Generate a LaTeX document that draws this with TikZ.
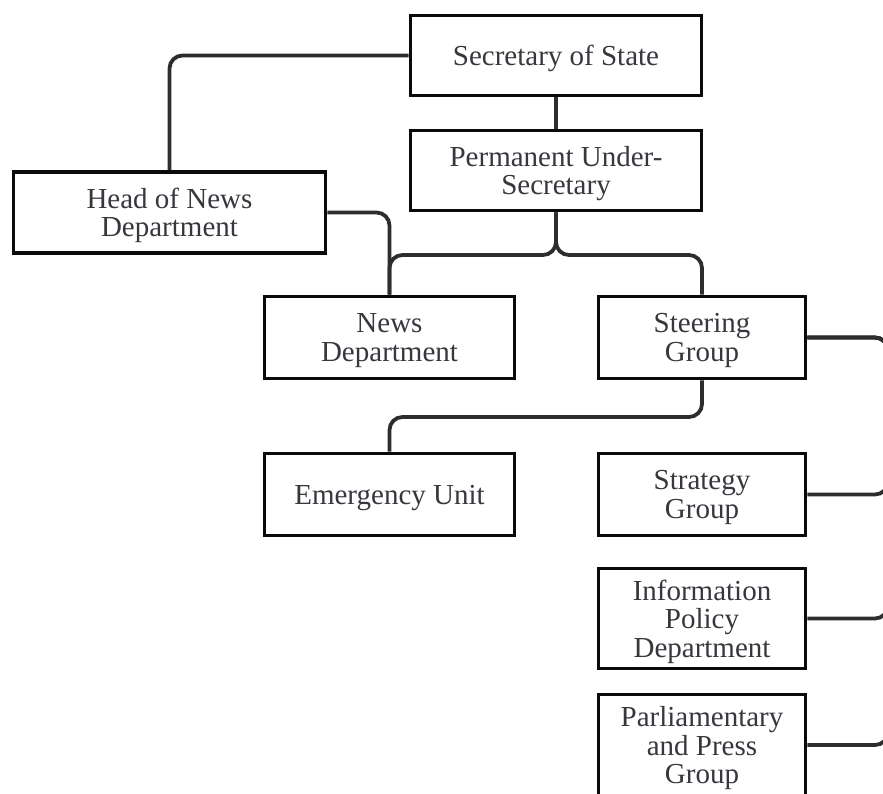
\documentclass[tikz,border=0pt]{standalone}
\usepackage{fontspec}
\setmainfont{Liberation Serif}
\usepackage{tikz}
\usetikzlibrary{positioning}
\definecolor{BoxBlack}{RGB}{10, 10, 10}
\definecolor{LinkGrey}{RGB}{45, 45, 45}
\definecolor{TextGrey}{RGB}{55, 55, 62}

\tikzset{
  orgbox/.style={draw=BoxBlack, line width=3.6pt, fill=white, text=TextGrey, align=center,
    inner sep=0pt, minimum height=80pt, text depth=0pt, font=\fontsize{29}{28.5}\selectfont},
  link/.style={draw=LinkGrey, line width=3.8pt, rounded corners=13pt},
}

\begin{document}
\begin{tikzpicture}[x=1pt, y=-1pt]
\useasboundingbox (0,0) rectangle (883,794);

% boxes
\node[orgbox, minimum width=291pt] (sec) at (556,55.5) {Secretary of State};
\node[orgbox, minimum width=291pt] (pus) at (556,170.5) {Permanent Under-\\Secretary};
\node[orgbox, minimum width=312pt, minimum height=81pt] (head) at (169.5,212.5) {Head of News\\Department};
\node[orgbox, minimum width=250pt, minimum height=82pt] (news) at (389.5,337.5) {News\\Department};
\node[orgbox, minimum width=207pt, minimum height=82pt] (steer) at (702,337.5) {Steering\\Group};
\node[orgbox, minimum width=250pt, minimum height=82pt] (emerg) at (389.5,494.5) {Emergency Unit};
\node[orgbox, minimum width=207pt, minimum height=82pt] (strat) at (702,494.5) {Strategy\\Group};
\node[orgbox, minimum width=207pt, minimum height=100pt] (info) at (702,618.5) {Information\\Policy\\Department};
\node[orgbox, minimum width=207pt, minimum height=101pt] (parl) at (702,745) {Parliamentary\\and Press\\Group};

% bends of the connectors
\coordinate (split) at (0,255);
\coordinate (drop) at (0,417);
\coordinate (bus) at (888,0);

% connectors
\draw[link] (sec) -- (pus);
\draw[link] (sec.west) -| (head.north);
\draw[link] (head.east) -| (news.north);
\draw[link] (pus.south) -- (pus.south |- split) -| (news.north);
\draw[link] (pus.south) -- (pus.south |- split) -| (steer.north);
\draw[link] (steer.south) -- (steer.south |- drop) -| (emerg.north);
\foreach \unit in {strat, info, parl}
  \draw[link] (steer.east) -- (steer.east -| bus) -- (bus |- \unit.east) -- (\unit.east);
\end{tikzpicture}
\end{document}
